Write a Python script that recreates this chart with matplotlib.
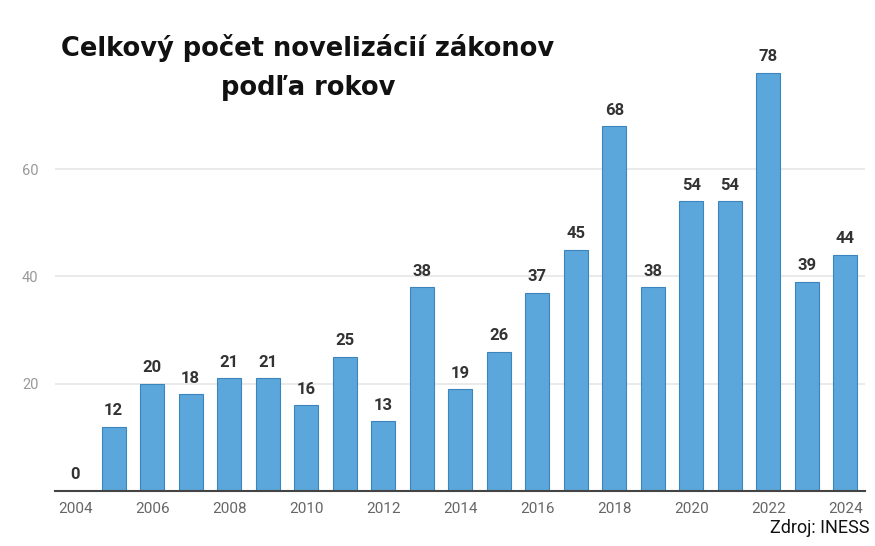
import matplotlib.pyplot as plt
import numpy as np

years = list(range(2004, 2025))
counts = [0, 12, 20, 18, 21, 21, 16, 25, 13, 38, 19, 26, 37, 45, 68, 38, 54, 54, 78, 39, 44]
xtick_years = list(range(2004, 2025, 2))
ytick_vals = [20, 40, 60]

plt.rcParams['font.family'] = ['Roboto', 'DejaVu Sans']

fig = plt.figure(figsize=(8.75, 5.46), dpi=100)
ax = fig.add_axes([0.063, 0.1007, 0.926, 0.786])

ax.bar(years, counts, width=0.63, color='#5ba6da', edgecolor='#3d84bc', linewidth=0.8, zorder=3)

for x, v in zip(years, counts):
    ax.text(x, v + 1.6, str(v), ha='center', va='bottom', fontsize=12, fontweight='bold', color='#333333')

ax.set_xlim(2004 - 0.52, 2024 + 0.52)
ax.set_ylim(0, 80)
ax.set_xticks(xtick_years)
ax.set_xticklabels([str(y) for y in xtick_years], fontsize=11, color='#666666')
ax.set_yticks(ytick_vals)
ax.set_yticklabels([str(v) for v in ytick_vals], fontsize=10.5, color='#999999')
ax.tick_params(length=0, pad=8)
ax.tick_params(axis='y', pad=12)
ax.yaxis.grid(True, color='#e6e6e6', linewidth=1.2, zorder=0)
for s in ['top', 'right', 'left']:
    ax.spines[s].set_visible(False)
ax.spines['bottom'].set_color('#444444')
ax.spines['bottom'].set_linewidth(1.5)
ax.spines['bottom'].set_zorder(4)

title_font = ['DejaVu Sans']
fig.text(0.352, 0.913, 'Celkový počet novelizácií zákonov', ha='center', va='center',
         fontsize=18.5, fontweight='bold', color='#111111', family=title_font)
fig.text(0.352, 0.838, 'podľa rokov', ha='center', va='center',
         fontsize=18.5, fontweight='bold', color='#111111', family=title_font)
fig.text(0.994, 0.033, 'Zdroj: INESS', ha='right', va='center', fontsize=13, color='#111111')

fig.savefig('out.png', dpi=100)
